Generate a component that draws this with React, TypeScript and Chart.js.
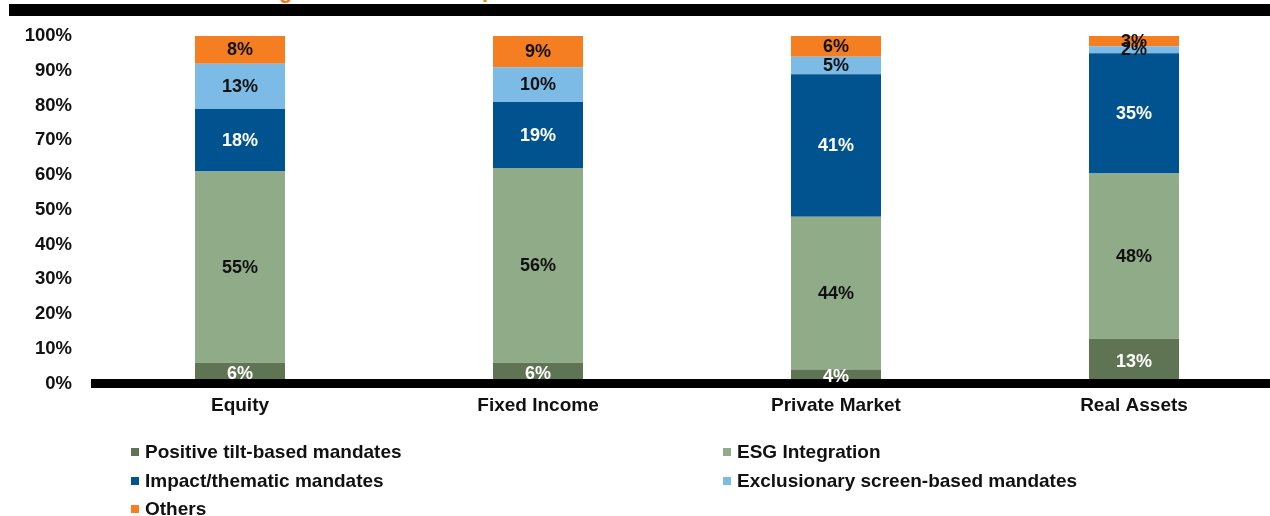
import React, { useEffect, useRef } from "react";
import { Chart, registerables } from "chart.js";

Chart.register(...registerables);

const categories = ["Equity", "Fixed Income", "Private Market", "Real Assets"];
const seriesNames = [
  "Positive tilt-based mandates",
  "ESG Integration",
  "Impact/thematic mandates",
  "Exclusionary screen-based mandates",
  "Others",
];
const positiveTilt = [6, 6, 4, 13];
const esgIntegration = [55, 56, 44, 48];
const impactThematic = [18, 19, 41, 35];
const exclusionary = [13, 10, 5, 2];
const others = [8, 9, 6, 3];
const yTicks = [0, 10, 20, 30, 40, 50, 60, 70, 80, 90, 100];

const seriesColors = ["#5F7452", "#90AB87", "#00538F", "#7BBBE6", "#F47E20"];
const labelColors = ["#FFFFFF", "#111111", "#FFFFFF", "#111111", "#111111"];

const FONT = "'Liberation Sans', Arial, sans-serif";

export default function App() {
  const ref = useRef<HTMLCanvasElement | null>(null);

  useEffect(() => {
    if (!ref.current) return;
    const raw = [positiveTilt, esgIntegration, impactThematic, exclusionary, others];
    const totals = categories.map((_, j) => raw.reduce((s, arr) => s + arr[j], 0));
    const datasets = raw.map((arr, i) => ({
      label: seriesNames[i],
      data: arr.map((v, j) => (v / totals[j]) * 100),
      rawValues: arr,
      backgroundColor: seriesColors[i],
      borderWidth: 0,
      categoryPercentage: 1,
      barPercentage: 0.302,
    }));

    const decor = {
      id: "decor",
      afterDatasetsDraw(chart: any) {
        const ctx = chart.ctx;
        const area = chart.chartArea;
        const y0 = chart.scales.y.getPixelForValue(0);
        ctx.save();
        // baseline axis
        ctx.fillStyle = "#000";
        ctx.fillRect(area.left, y0 - 4.5, chart.width - area.left, 9);
        // data labels
        ctx.font = `bold 18px ${FONT}`;
        ctx.textAlign = "center";
        ctx.textBaseline = "middle";
        chart.data.datasets.forEach((ds: any, i: number) => {
          const meta = chart.getDatasetMeta(i);
          meta.data.forEach((bar: any, j: number) => {
            const p = bar.getProps(["x", "y", "base"], true);
            ctx.fillStyle = labelColors[i];
            ctx.fillText(ds.rawValues[j] + "%", p.x, (p.y + p.base) / 2 + 0.5);
          });
        });
        ctx.restore();
      },
      afterDraw(chart: any) {
        const ctx = chart.ctx;
        ctx.save();
        // top black band with cut-off title
        ctx.fillStyle = "#000";
        ctx.fillRect(9, 4, chart.width - 9, 12);
        ctx.fillStyle = "#F47E20";
        ctx.font = `bold 22px ${FONT}`;
        ctx.textAlign = "left";
        ctx.textBaseline = "alphabetic";
        ctx.fillText("g", 279, -2);
        ctx.fillText("p", 482, -3);
        // legend
        const items = [
          { i: 0, x: 131, y: 452 },
          { i: 1, x: 723, y: 452 },
          { i: 2, x: 131, y: 481 },
          { i: 3, x: 723, y: 481 },
          { i: 4, x: 131, y: 509 },
        ];
        ctx.font = `bold 19px ${FONT}`;
        ctx.textBaseline = "middle";
        items.forEach((it) => {
          ctx.fillStyle = seriesColors[it.i];
          ctx.fillRect(it.x, it.y - 4, 8, 8);
          ctx.fillStyle = "#111";
          ctx.fillText(seriesNames[it.i], it.x + 14, it.y + 1);
        });
        ctx.restore();
      },
    };

    const chart = new Chart(ref.current, {
      type: "bar",
      data: { labels: categories, datasets: datasets as any },
      options: {
        animation: false,
        responsive: false,
        devicePixelRatio: 1,
        layout: { padding: { top: 36, right: 7, bottom: 92.5, left: 0 } },
        plugins: { legend: { display: false }, tooltip: { enabled: false } },
        scales: {
          x: {
            stacked: true,
            grid: { display: false, drawTicks: false },
            border: { display: false },
            ticks: {
              color: "#111",
              font: { family: FONT, size: 19, weight: "bold" },
              padding: 11,
            },
            afterFit: (s: any) => {
              s.height = 40;
            },
          },
          y: {
            stacked: true,
            min: 0,
            max: 100,
            afterBuildTicks: (s: any) => {
              s.ticks = yTicks.map((v) => ({ value: v }));
            },
            grid: { display: false, drawTicks: false },
            border: { display: false },
            ticks: {
              color: "#111",
              font: { family: FONT, size: 18.5, weight: "bold" },
              padding: 19,
              callback: (v: any) => v + "%",
            },
            afterFit: (s: any) => {
              s.width = 91;
            },
          },
        },
      },
      plugins: [decor],
    });
    return () => chart.destroy();
  }, []);

  return (
    <div
      style={{
        position: "absolute",
        left: 0,
        top: 0,
        width: 1270,
        height: 516,
        overflow: "hidden",
        background: "#fff",
      }}
    >
      <canvas ref={ref} width={1290} height={516} style={{ display: "block" }} />
    </div>
  );
}
